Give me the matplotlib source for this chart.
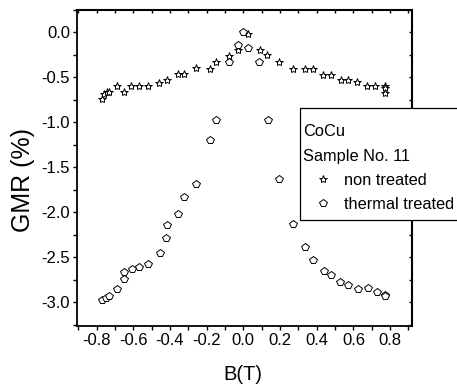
import matplotlib
matplotlib.use("Agg")
import matplotlib.pyplot as plt
from matplotlib.patches import Rectangle
from matplotlib.ticker import MultipleLocator

plt.rcParams['font.family'] = ['Liberation Sans', 'DejaVu Sans']
plt.rcParams['axes.unicode_minus'] = False

# non treated sample (stars)
b_non = [-0.768, -0.758, -0.745, -0.731, -0.687, -0.649, -0.611, -0.569, -0.518,
         -0.458, -0.418, -0.355, -0.324, -0.258, -0.182, -0.149, -0.076, -0.027,
         0.024, 0.090, 0.130, 0.196, 0.273, 0.336, 0.379, 0.436, 0.477, 0.531,
         0.573, 0.622, 0.673, 0.718, 0.773, 0.773, 0.773]
gmr_non = [-0.735, -0.68, -0.665, -0.665, -0.60, -0.665, -0.598, -0.598, -0.598,
           -0.565, -0.531, -0.461, -0.461, -0.398, -0.402, -0.331, -0.261, -0.194,
           -0.02, -0.194, -0.255, -0.328, -0.402, -0.401, -0.401, -0.472, -0.472, -0.531,
           -0.531, -0.546, -0.594, -0.594, -0.594, -0.62, -0.669]

# thermal treated sample (pentagons)
b_th = [-0.769, -0.749, -0.731, -0.687, -0.649, -0.649, -0.609, -0.569, -0.518,
        -0.456, -0.422, -0.416, -0.355, -0.323, -0.258, -0.182, -0.149, -0.076,
        -0.027, 0.0, 0.024, 0.087, 0.133, 0.193, 0.273, 0.337, 0.382, 0.44,
        0.479, 0.526, 0.573, 0.627, 0.677, 0.728, 0.773, 0.773]
gmr_th = [-2.969, -2.95, -2.935, -2.85, -2.742, -2.664, -2.631, -2.609, -2.576,
          -2.457, -2.29, -2.143, -2.02, -1.824, -1.682, -1.198, -0.976, -0.328,
          -0.139, 0.0, -0.176, -0.331, -0.978, -1.629, -2.13, -2.385, -2.526, -2.648,
          -2.696, -2.772, -2.813, -2.85, -2.846, -2.883, -2.917, -2.935]

W, H = 457, 388
fig = plt.figure(figsize=(W / 100, H / 100), dpi=100)
ax = fig.add_axes([77 / W, 1 - 325.7 / H, 334.7 / W, 315.7 / H])

star, = ax.plot(b_non, gmr_non, linestyle='none', marker='*', markersize=6,
                markerfacecolor='white', markeredgecolor='black', markeredgewidth=0.7)
pent, = ax.plot(b_th, gmr_th, linestyle='none', marker='p', markersize=5.5,
                markerfacecolor='white', markeredgecolor='black', markeredgewidth=0.7)

ax.set_xlim(-0.907, 0.918)
ax.set_ylim(-3.26, 0.25)
ax.xaxis.set_major_locator(MultipleLocator(0.2))
ax.xaxis.set_minor_locator(MultipleLocator(0.1))
ax.yaxis.set_major_locator(MultipleLocator(0.5))
ax.yaxis.set_minor_locator(MultipleLocator(0.25))

ax.tick_params(which='both', direction='out', length=3, width=1, labelsize=12,
               pad=2, top=False, right=False)

# small inward ticks on top and right
top = ax.secondary_xaxis('top')
top.xaxis.set_major_locator(MultipleLocator(0.1))
top.tick_params(direction='in', length=2, width=1, labeltop=False)
right = ax.secondary_yaxis('right')
right.yaxis.set_major_locator(MultipleLocator(0.25))
right.tick_params(direction='in', length=2, width=1, labelright=False)
top.spines['top'].set_linewidth(1.5)
right.spines['right'].set_linewidth(1.5)
for s in ax.spines.values():
    s.set_linewidth(1.3)

ax.set_xlabel('B(T)', fontsize=14.5)
ax.set_ylabel('GMR (%)', fontsize=18)
ax.xaxis.set_label_coords(0.496, -0.124)
ax.yaxis.set_label_coords(-0.1255, 0.4615)

# legend frame, reaching past the right edge of the figure
fig.add_artist(Rectangle((300 / W, 1 - 220 / H), 160 / W, 111.7 / H,
                         transform=fig.transFigure, facecolor='white',
                         edgecolor='black', linewidth=0.9, zorder=3))

leg = fig.legend([star, pent], ['non treated', 'thermal treated'],
                 title='CoCu\nSample No. 11', loc='upper left',
                 bbox_to_anchor=(303.3 / W, 1 - 124 / H), borderaxespad=0,
                 fontsize=11.8, title_fontsize=11.8, alignment='left',
                 frameon=False, borderpad=0, handlelength=2.36,
                 handletextpad=0.14, labelspacing=0.55)
leg.set_zorder(5)
leg.get_title().set_linespacing(1.8)

fig.savefig('out.png', dpi=100)
